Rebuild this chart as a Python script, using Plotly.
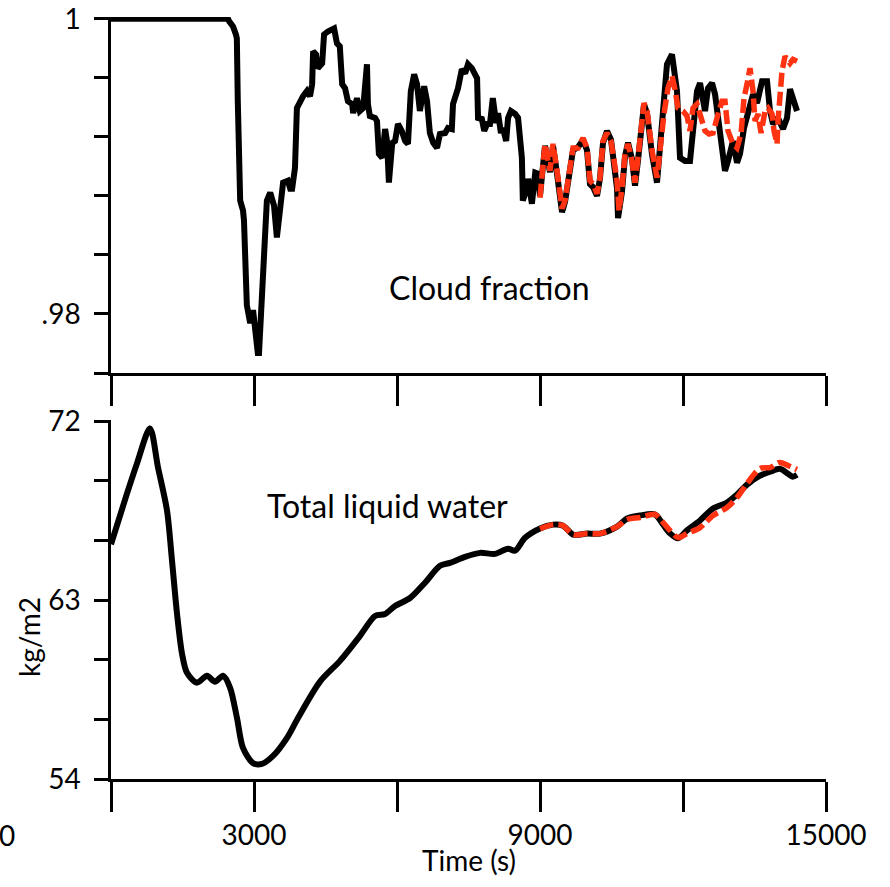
import plotly.graph_objects as go

# ---------------- data ----------------
# Cloud fraction, control run (black)
cf_time = [0, 2455, 2480, 2560, 2620, 2640, 2660, 2710, 2770, 2790, 2850, 2920, 2980, 3020,
           3080, 3105, 3170, 3270, 3340, 3420, 3480, 3550, 3610, 3710, 3760, 3800, 3860, 3900,
           3965, 4030, 4110, 4175, 4220, 4240, 4300, 4340, 4430, 4470, 4550, 4640, 4680, 4740,
           4800, 4850, 4910, 4970, 5060, 5080, 5160, 5220, 5290, 5370, 5390, 5430, 5540, 5580,
           5620, 5690, 5750, 5790, 5830, 5900, 5960, 6020, 6100, 6170, 6230, 6290, 6360, 6420,
           6480, 6570, 6630, 6690, 6760, 6840, 6900, 7010, 7070, 7150, 7175, 7280, 7360, 7430,
           7490, 7570, 7680, 7700, 7780, 7830, 7890, 7950, 8010, 8080, 8120, 8180, 8220, 8290,
           8330, 8390, 8480, 8540, 8620, 8640, 8730, 8750, 8830, 8900, 8960,
           9000, 9105, 9210, 9273, 9357, 9462, 9525, 9588, 9693, 9798, 9902, 9986, 10049, 10112,
           10196, 10259, 10322, 10406, 10490, 10532, 10616, 10637, 10721, 10784, 10847, 10930,
           10993, 11056, 11140, 11182, 11245, 11350, 11455, 11518, 11601, 11664, 11769, 11874,
           11937, 12042, 12147, 12210, 12294, 12357, 12462, 12525, 12609, 12672, 12735, 12818,
           12881, 12944, 13049, 13133, 13196, 13280, 13406, 13469, 13553, 13658, 13763, 13826,
           13889, 13993, 14098, 14182, 14245, 14308, 14392]
cf_ctrl = [1.0000, 1.0000, 0.99982, 0.99948, 0.99894, 0.99867, 0.99442, 0.98768, 0.98700, 0.98632,
           0.98059, 0.97938, 0.98026, 0.97891, 0.97736, 0.97736, 0.98093, 0.98768, 0.98822, 0.98734,
           0.98518, 0.98700, 0.98890, 0.98903, 0.98849, 0.98849, 0.98990, 0.99395, 0.99442, 0.99476,
           0.99510, 0.99476, 0.99557, 0.99779, 0.99759, 0.99665, 0.99698, 0.99894, 0.99914, 0.99935,
           0.99935, 0.99833, 0.99813, 0.99557, 0.99530, 0.99442, 0.99422, 0.99361, 0.99462, 0.99375,
           0.99395, 0.99692, 0.99422, 0.99341, 0.99328, 0.99307, 0.99085, 0.99058, 0.99253, 0.99172,
           0.98890, 0.99159, 0.99172, 0.99287, 0.99240, 0.99172, 0.99152, 0.99510, 0.99624, 0.99557,
           0.99375, 0.99543, 0.99442, 0.99226, 0.99159, 0.99125, 0.99219, 0.99226, 0.99260, 0.99253,
           0.99422, 0.99530, 0.99658, 0.99631, 0.99692, 0.99665, 0.99597, 0.99328, 0.99321, 0.99240,
           0.99287, 0.99287, 0.99462, 0.99294, 0.99361, 0.99226, 0.99260, 0.99172, 0.99328, 0.99375,
           0.99355, 0.99328, 0.99058, 0.98768, 0.98855, 0.98916, 0.98747, 0.98957, 0.98950,
           0.98800, 0.99140, 0.98960, 0.99140, 0.98950, 0.98690, 0.98760, 0.98900, 0.99110, 0.99130,
           0.99180, 0.99110, 0.98880, 0.98860, 0.98800, 0.98920, 0.99160, 0.99240, 0.99180, 0.99070,
           0.98850, 0.98650, 0.98830, 0.99070, 0.99160, 0.99050, 0.98870, 0.99040, 0.99290, 0.99420,
           0.99360, 0.99080, 0.98890, 0.99140, 0.99360, 0.99692, 0.99759, 0.99510, 0.99058, 0.99037,
           0.99037, 0.99219, 0.99510, 0.99564, 0.99375, 0.99530, 0.99564, 0.99489, 0.99328, 0.99172,
           0.98970, 0.99037, 0.99172, 0.99024, 0.99085, 0.99260, 0.99442, 0.99489, 0.99429, 0.99577,
           0.99577, 0.99375, 0.99287, 0.99328, 0.99253, 0.99328, 0.99523, 0.99442, 0.99375]

# Cloud fraction, restarted run (red dashed)
cf_time_r = [9000, 9105, 9210, 9273, 9357, 9462, 9525, 9588, 9693, 9798, 9902, 9986, 10049,
             10112, 10196, 10259, 10322, 10406, 10490, 10532, 10616, 10658, 10721, 10784, 10847,
             10930, 10993, 11056, 11140, 11182, 11245, 11350, 11455, 11518, 11601, 11685, 11769,
             11832, 11895, 12000, 12084, 12147, 12210, 12294, 12357, 12462, 12546, 12630, 12714,
             12818, 12881, 12944, 13049, 13133, 13217, 13280, 13343, 13406, 13469, 13511, 13574,
             13637, 13721, 13784, 13868, 13910, 13973, 13993, 14077, 14140, 14245, 14308, 14392]
cf_rest = [0.98788, 0.99152, 0.98970, 0.99152, 0.98970, 0.98714, 0.98768, 0.98903, 0.99125, 0.99125,
           0.99192, 0.99125, 0.98903, 0.98883, 0.98815, 0.98923, 0.99172, 0.99226, 0.99172, 0.99085,
           0.98903, 0.98700, 0.98855, 0.99085, 0.99152, 0.99037, 0.98890, 0.99058, 0.99307, 0.99429,
           0.99375, 0.99105, 0.98923, 0.99152, 0.99355, 0.99530, 0.99611, 0.99523, 0.99395, 0.99375,
           0.99341, 0.99240, 0.99395, 0.99422, 0.99355, 0.99240, 0.99219, 0.99226, 0.99328, 0.99442,
           0.99442, 0.99240, 0.99152, 0.99125, 0.99219, 0.99462, 0.99557, 0.99665, 0.99510, 0.99307,
           0.99355, 0.99226, 0.99375, 0.99395, 0.99355, 0.99240, 0.99152, 0.99307, 0.99645, 0.99746,
           0.99698, 0.99725, 0.99712]

# Total liquid water (kg/m2), control run (black)
lw_time = [0, 336, 545, 818, 986, 1175, 1280, 1385, 1490, 1594, 1804, 2014, 2182, 2350, 2497,
           2643, 2769, 2979, 3168, 3399, 3693, 3923, 4385, 4804, 5224, 5539, 5749, 5958, 6273,
           6588, 6902, 7112, 7427, 7742, 8056, 8329, 8476, 8686, 9000, 9273, 9483, 9693, 9986,
           10259, 10616, 10826, 11098, 11413, 11580, 11727, 11895, 12084, 12357, 12630, 12923,
           13133, 13343, 13616, 13826, 14035, 14203, 14300, 14392]
lw_ctrl = [65.8, 68.36, 69.87, 71.63, 69.67, 67.5, 64.98, 62.31, 60.3, 59.34, 58.84, 59.19, 58.89,
           59.19, 58.6, 57.07, 55.56, 54.8, 54.76, 55.16, 56.07, 57.07, 58.9, 59.94, 61.2, 62.2,
           62.3, 62.7, 63.1, 63.87, 64.72, 64.87, 65.17, 65.37, 65.32, 65.58, 65.48, 66.13, 66.6,
           66.79, 66.74, 66.29, 66.34, 66.34, 66.69, 67.1, 67.25, 67.3, 66.8, 66.35, 66.1, 66.5,
           67.0, 67.6, 67.9, 68.3, 68.8, 69.25, 69.45, 69.6, 69.35, 69.2, 69.3]

# Total liquid water, restarted run (red dashed)
lw_time_r = [9000, 9273, 9483, 9693, 9986, 10259, 10616, 10826, 11098, 11413, 11580, 11727,
             11895, 12084, 12357, 12630, 12923, 13133, 13343, 13616, 13826, 14035, 14203, 14392]
lw_rest = [66.58, 66.79, 66.74, 66.29, 66.34, 66.34, 66.69, 67.05, 67.15, 67.3, 66.9, 66.5,
           66.14, 66.34, 66.64, 67.25, 67.65, 68.15, 68.86, 69.61, 69.66, 69.92, 69.76, 69.56]

x_ticks = [0, 3000, 6000, 9000, 12000, 15000]
x_ticklabels = ["", "3000", "", "9000", "", "15000"]
cf_ticks = [0.976, 0.98, 0.984, 0.988, 0.992, 0.996, 1.0]
cf_ticklabels = ["", ".98", "", "", "", "", "1"]
lw_ticks = [54, 57, 60, 63, 66, 69, 72]
lw_ticklabels = ["54", "", "", "63", "", "", "72"]

BLACK = "#000000"
RED = "#FF3311"
FONT = "Lato"
DASH = "14px,5px"

fig = go.Figure()
fig.add_trace(go.Scatter(x=cf_time, y=cf_ctrl, mode="lines", xaxis="x", yaxis="y",
                         line=dict(color=BLACK, width=6), showlegend=False))
fig.add_trace(go.Scatter(x=cf_time_r, y=cf_rest, mode="lines", xaxis="x", yaxis="y",
                         line=dict(color=RED, width=5.5, dash=DASH), showlegend=False))
fig.add_trace(go.Scatter(x=lw_time, y=lw_ctrl, mode="lines", xaxis="x2", yaxis="y2",
                         line=dict(color=BLACK, width=6, shape="spline", smoothing=0.8),
                         showlegend=False))
fig.add_trace(go.Scatter(x=lw_time_r, y=lw_rest, mode="lines", xaxis="x2", yaxis="y2",
                         line=dict(color=RED, width=5.5, dash=DASH, shape="spline", smoothing=0.8),
                         showlegend=False))

axis_common = dict(showgrid=False, zeroline=False, showline=True, linecolor=BLACK,
                   linewidth=2.5, ticks="outside", tickcolor=BLACK, tickwidth=2.5,
                   automargin=False, ticklabeloverflow="allow",
                   tickfont=dict(family=FONT, size=28, color=BLACK))

fig.update_layout(
    width=890, height=887,
    margin=dict(l=111, r=64, t=17, b=108, autoexpand=False),
    paper_bgcolor="white", plot_bgcolor="white",
    font=dict(family=FONT, size=28, color=BLACK),
    xaxis=dict(domain=[0, 1], anchor="y", range=[0, 15000], tickmode="array",
               tickvals=x_ticks, ticktext=[""] * len(x_ticks), ticklen=30, **axis_common),
    yaxis=dict(domain=[0.5328, 1], anchor="x", range=[0.976, 1.00012], tickmode="array",
               tickvals=cf_ticks, ticktext=cf_ticklabels, ticklen=14, ticklabelstandoff=8,
               **axis_common),
    xaxis2=dict(domain=[0, 1], anchor="y2", range=[0, 15000], tickmode="array",
                tickvals=x_ticks, ticktext=x_ticklabels, ticklen=30, ticklabelstandoff=0,
                **axis_common),
    yaxis2=dict(domain=[0, 0.4711], anchor="x2", range=[54, 72.05], tickmode="array",
                tickvals=lw_ticks, ticktext=lw_ticklabels, ticklen=14, ticklabelstandoff=8,
                **axis_common),
    annotations=[
        dict(text="Cloud fraction", x=7930, y=0.98181, xref="x", yref="y", showarrow=False,
             xanchor="center", yanchor="middle",
             font=dict(family=FONT, size=32, color=BLACK)),
        dict(text="Total liquid water", x=5811, y=67.75, xref="x2", yref="y2", showarrow=False,
             xanchor="center", yanchor="middle",
             font=dict(family=FONT, size=32, color=BLACK)),
        dict(text="kg/m2", x=-0.1147, y=0.1864, xref="paper", yref="paper", showarrow=False,
             xanchor="center", yanchor="middle", textangle=-90,
             font=dict(family=FONT, size=28, color=BLACK)),
        dict(text="0", x=-0.1455, y=-0.0735, xref="paper", yref="paper", showarrow=False,
             xanchor="center", yanchor="middle",
             font=dict(family=FONT, size=28, color=BLACK)),
        dict(text="Time (s)", x=0.5, y=-0.106, xref="paper", yref="paper", showarrow=False,
             xanchor="center", yanchor="middle",
             font=dict(family=FONT, size=28, color=BLACK)),
    ],
)

# remove the browser's default page margin so the figure sits at the window's top-left
fig.write_html("out.html",
               config={"displayModeBar": False},
               post_script="document.body.style.margin='0';document.body.style.padding='0';")
